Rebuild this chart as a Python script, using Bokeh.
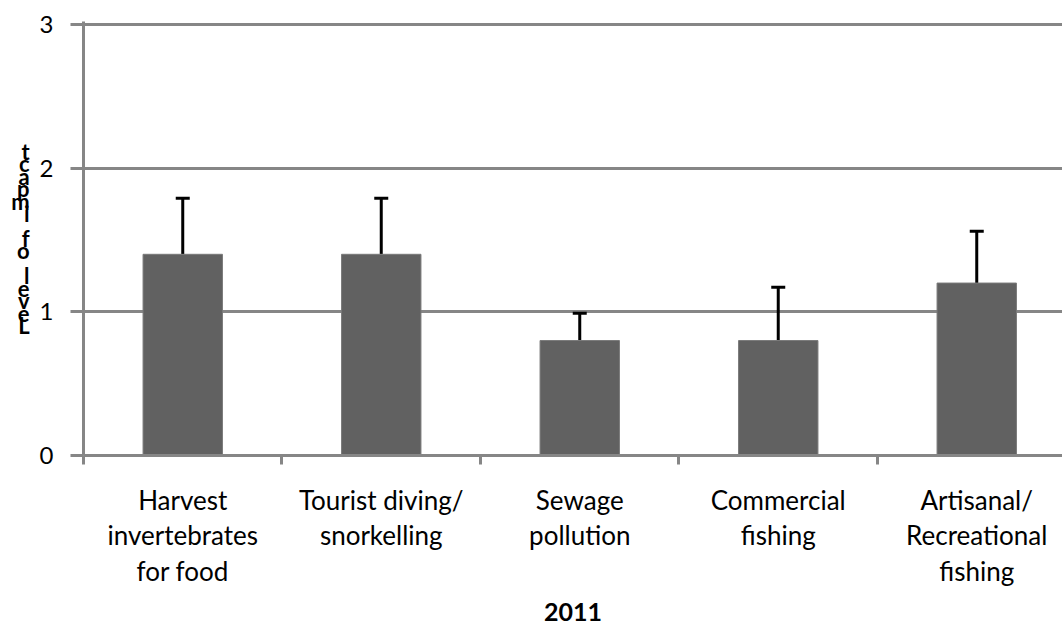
import numpy as np
from bokeh.plotting import figure
from bokeh.models import ColumnDataSource, Range1d, FixedTicker, Whisker, TeeHead
from bokeh.embed import file_html
from bokeh.resources import INLINE

# ---- data ----
categories = [
    "Harvest\ninvertebrates\nfor food",
    "Tourist diving/\nsnorkelling",
    "Sewage\npollution",
    "Commercial\nfishing",
    "Artisanal/\nRecreational\nfishing",
]
impact = [1.4, 1.4, 0.8, 0.8, 1.2]
error = [0.39, 0.39, 0.19, 0.37, 0.36]
y_ticks = [0, 1, 2, 3]
x_title = "2011"
y_title = "Level of impact"

FONT = "Lato"
GRID = "#868686"

xs = [i + 0.5 for i in range(len(categories))]
bounds = list(range(len(categories) + 1))
upper = [v + e for v, e in zip(impact, error)]
src = ColumnDataSource(dict(x=xs, top=impact, upper=upper))

p = figure(width=1062, height=640, output_backend="svg", toolbar_location=None,
           x_range=Range1d(0, 4.932), y_range=Range1d(0, 3.02),
           min_border_left=83, min_border_right=0, min_border_top=21,
           min_border_bottom=185)
p.outline_line_color = None
p.background_fill_color = "white"
p.border_fill_color = "white"

p.vbar(x="x", top="top", width=0.4, source=src,
       fill_color="#616161", line_color="#7a7a7a", line_width=1)

w = Whisker(base="x", lower="top", upper="upper", source=src, dimension="height",
            line_color="black", line_width=3,
            upper_head=TeeHead(size=14, line_color="black", line_width=3),
            lower_head=None)
p.add_layout(w)

# x axis: boundaries as minor ticks, labels at centres
xa = p.xaxis[0]
xa.ticker = FixedTicker(ticks=xs, minor_ticks=bounds)
xa.major_label_overrides = {x: c for x, c in zip(xs, categories)}
xa.major_tick_out = 0
xa.major_tick_in = 0
xa.minor_tick_out = 9
xa.minor_tick_in = 0
xa.minor_tick_line_color = GRID
xa.minor_tick_line_width = 3
xa.axis_line_color = GRID
xa.axis_line_width = 3
xa.major_label_text_font = FONT
xa.major_label_text_font_size = "26px"
xa.major_label_text_color = "black"
xa.major_label_text_line_height = 1.12
xa.major_label_standoff = 19
xa.axis_label = x_title
xa.axis_label_text_font = FONT
xa.axis_label_text_font_size = "25px"
xa.axis_label_text_font_style = "bold"
xa.axis_label_text_color = "black"
xa.axis_label_standoff = 13

ya = p.yaxis[0]
ya.ticker = FixedTicker(ticks=y_ticks)
ya.major_tick_out = 13
ya.major_tick_in = 0
ya.major_tick_line_color = GRID
ya.major_tick_line_width = 3
ya.minor_tick_line_color = None
ya.axis_line_color = GRID
ya.axis_line_width = 3
ya.major_label_text_font = FONT
ya.major_label_text_font_size = "24px"
ya.major_label_text_color = "black"
ya.major_label_standoff = 17

# stacked, upright letters of the y title (read bottom to top)
ya.axis_label = "\n".join(reversed(y_title))
ya.axis_label_text_font = FONT
ya.axis_label_text_font_style = "bold"
ya.axis_label_text_font_size = "22px"
ya.axis_label_text_color = "black"
ya.axis_label_text_line_height = 0.46
ya.axis_label_standoff = 7
try:
    ya.axis_label_orientation = "horizontal"
except Exception:
    pass

p.xgrid.grid_line_color = None
p.ygrid.ticker = FixedTicker(ticks=y_ticks)
p.ygrid.grid_line_color = GRID
p.ygrid.grid_line_width = 3

open("out.html", "w").write(file_html(p, INLINE))
